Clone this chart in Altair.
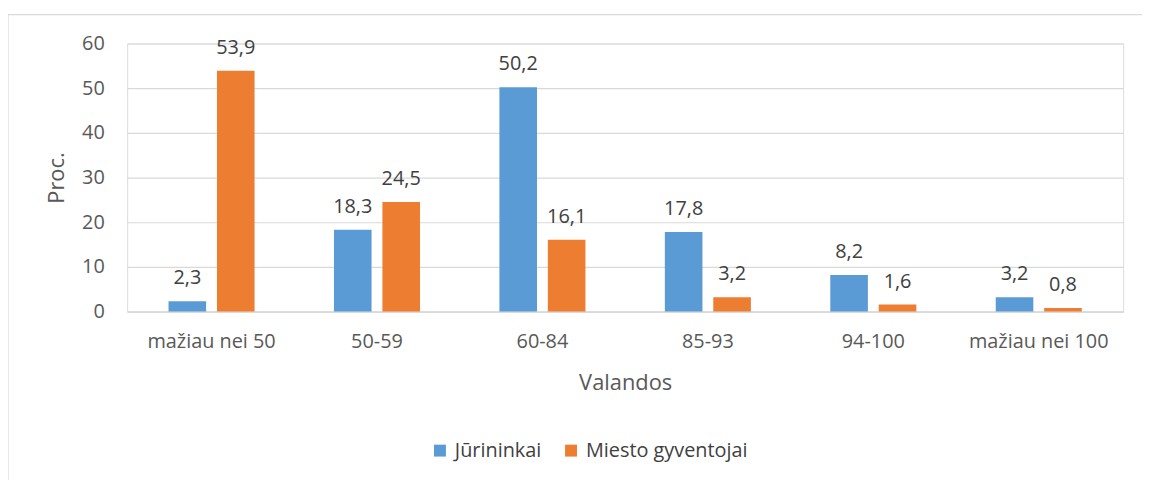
import altair as alt
import pandas as pd

categories = ["mažiau nei 50", "50-59", "60-84", "85-93", "94-100", "mažiau nei 100"]
series = ["Jūrininkai", "Miesto gyventojai"]
jurininkai = [2.3, 18.3, 50.2, 17.8, 8.2, 3.2]
miesto = [53.9, 24.5, 16.1, 3.2, 1.6, 0.8]
colors = ["#5B9BD5", "#ED7D31"]

rows = []
for c, a, b in zip(categories, jurininkai, miesto):
    rows.append({"cat": c, "series": series[0], "val": a, "lab": f"{a:.1f}".replace(".", ",")})
    rows.append({"cat": c, "series": series[1], "val": b, "lab": f"{b:.1f}".replace(".", ",")})
df = pd.DataFrame(rows)

FONT = "Open Sans"
W, H = 1003, 270

x = alt.X("cat:N", sort=categories,
          scale=alt.Scale(paddingInner=0.48, paddingOuter=0.25),
          axis=alt.Axis(title="Valandos", labelAngle=0, labelFontSize=20, labelColor="#595959",
                        labelFont=FONT, titleFont=FONT, titleFontSize=22, titleFontWeight="normal",
                        titleColor="#595959", labelPadding=20, titlePadding=21, ticks=False,
                        domainColor="#d9d9d9", domainWidth=1.5, grid=False))
xo = alt.XOffset("series:N", sort=series, scale=alt.Scale(paddingInner=0.224))
y = alt.Y("val:Q", scale=alt.Scale(domain=[0, 60]),
          axis=alt.Axis(title="Proc.", values=[0, 10, 20, 30, 40, 50, 60], labelFontSize=20,
                        labelColor="#595959", labelFont=FONT, titleFont=FONT, titleFontSize=22,
                        titleFontWeight="normal", titleColor="#595959", ticks=False, domain=False,
                        gridColor="#d9d9d9", gridWidth=1.2, labelPadding=23, titlePadding=13))

border = alt.Chart(pd.DataFrame({"k": [0]})).mark_rect(
    filled=False, stroke="#d9d9d9", strokeWidth=1.2, clip=False
).encode(x=alt.value(-120), x2=alt.value(1060), y=alt.value(-29), y2=alt.value(520))

bars = alt.Chart(df).mark_bar().encode(
    x=x, xOffset=xo, y=y,
    color=alt.Color("series:N", sort=series, scale=alt.Scale(domain=series, range=colors),
                    legend=alt.Legend(title=None, orient="none", direction="horizontal",
                                      legendX=305, legendY=400, symbolType="square",
                                      symbolSize=144, symbolStrokeWidth=0, labelFont=FONT,
                                      labelFontSize=20, labelColor="#404040", columnPadding=19,
                                      labelLimit=400, symbolOffset=0, labelOffset=5))
)

text = alt.Chart(df).mark_text(baseline="bottom", dy=-13, fontSize=20, font=FONT, color="#404040").encode(
    x=alt.X("cat:N", sort=categories), xOffset=alt.XOffset("series:N", sort=series),
    y="val:Q", text="lab:N"
)

chart = alt.layer(border, bars, text).properties(
    width=W, height=H,
    autosize=alt.AutoSizeParams(type="none"),
    padding={"left": 120, "top": 34, "right": 19, "bottom": 190},
).configure_view(stroke=None).configure(background="white")

chart.save("out.html", embed_options={"renderer": "svg", "actions": False})
